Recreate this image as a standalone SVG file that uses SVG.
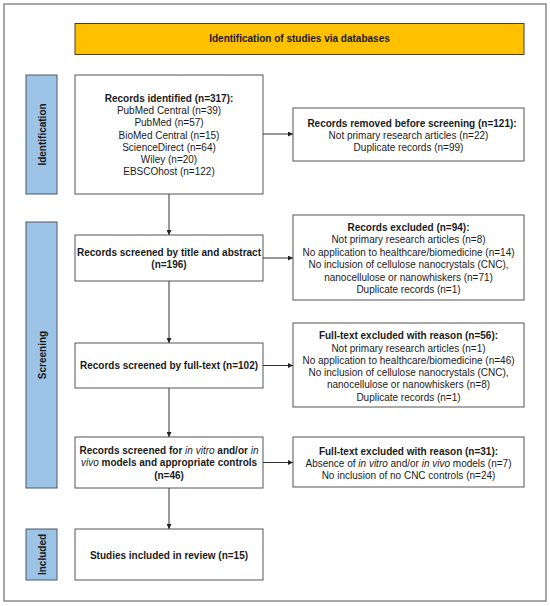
<svg xmlns="http://www.w3.org/2000/svg" width="550" height="606" viewBox="0 0 550 606">
<defs>
<marker id="ah" markerUnits="userSpaceOnUse" markerWidth="5" markerHeight="5" refX="5" refY="2.5" orient="auto">
<path d="M0,0 L5,2.5 L0,5 z" fill="#222"/>
</marker>
<style>
text{font-family:"Liberation Sans",Arial,sans-serif;font-size:10px;fill:#1a1a1a;text-anchor:middle}
.b{font-weight:bold}
.i{font-style:italic;font-weight:normal}
.box{fill:#fff;stroke:#555;stroke-width:1}
.stage{fill:#9dc3e6;stroke:#4a5868;stroke-width:1}
.conn line{stroke:#333;stroke-width:1;marker-end:url(#ah)}
</style>
</defs>
<rect x="0" y="0" width="550" height="606" fill="#fff"/>
<rect x="4" y="4" width="542" height="597" fill="#fff" stroke="#7a7a7a" stroke-width="1.3"/>

<g id="header">
<rect x="75" y="23.5" width="449" height="31" fill="#ffc000" stroke="#4d4020" stroke-width="1"/>
<text class="b" x="299.5" y="42">Identification of studies via databases</text>
</g>

<g id="stage-identification">
<rect class="stage" x="26" y="75" width="31" height="119"/>
<text class="b" transform="translate(45.5,134.5) rotate(-90)">Identification</text>
</g>
<g id="stage-screening">
<rect class="stage" x="26" y="222" width="31" height="266"/>
<text class="b" transform="translate(45.5,355) rotate(-90)">Screening</text>
</g>
<g id="stage-included">
<rect class="stage" x="26" y="529" width="31" height="51"/>
<text class="b" transform="translate(45.5,554.5) rotate(-90)">Included</text>
</g>

<g id="records-identified">
<rect class="box" x="75" y="75" width="188" height="119"/>
<text class="b" x="169" y="102">Records identified (n=317):</text>
<text x="169" y="114.2">PubMed Central (n=39)</text>
<text x="169" y="126.4">PubMed (n=57)</text>
<text x="169" y="138.6">BioMed Central (n=15)</text>
<text x="169" y="150.8">ScienceDirect (n=64)</text>
<text x="169" y="163">Wiley (n=20)</text>
<text x="169" y="175.2">EBSCOhost (n=122)</text>
</g>

<g id="records-removed">
<rect class="box" x="293" y="108" width="231" height="53"/>
<text class="b" x="412" y="126.8">Records removed before screening (n=121):</text>
<text x="408.5" y="138.6">Not primary research articles (n=22)</text>
<text x="408.5" y="150.8">Duplicate records (n=99)</text>
</g>

<g id="screened-title">
<rect class="box" x="75" y="235" width="188" height="46"/>
<text class="b" x="169" y="255.8">Records screened by title and abstract</text>
<text class="b" x="169" y="267.8">(n=196)</text>
</g>

<g id="records-excluded">
<rect class="box" x="293" y="215" width="231" height="85"/>
<text class="b" x="408.5" y="230.5">Records excluded (n=94):</text>
<text x="408.5" y="243.3">Not primary research articles (n=8)</text>
<text x="408.5" y="255.8">No application to healthcare/biomedicine (n=14)</text>
<text x="408.5" y="268.3">No inclusion of cellulose nanocrystals (CNC),</text>
<text x="408.5" y="280.8">nanocellulose or nanowhiskers (n=71)</text>
<text x="408.5" y="293.3">Duplicate records (n=1)</text>
</g>

<g id="screened-fulltext">
<rect class="box" x="75" y="343" width="188" height="45"/>
<text class="b" x="169" y="369.2">Records screened by full-text (n=102)</text>
</g>

<g id="fulltext-excluded-56">
<rect class="box" x="293" y="323" width="231" height="84"/>
<text class="b" x="408.5" y="339.2">Full-text excluded with reason (n=56):</text>
<text x="408.5" y="351.5">Not primary research articles (n=1)</text>
<text x="408.5" y="363.8">No application to healthcare/biomedicine (n=46)</text>
<text x="408.5" y="376.1">No inclusion of cellulose nanocrystals (CNC),</text>
<text x="408.5" y="388.4">nanocellulose or nanowhiskers (n=8)</text>
<text x="408.5" y="400.6">Duplicate records (n=1)</text>
</g>

<g id="screened-models">
<rect class="box" x="75" y="437" width="188" height="51"/>
<text class="b" x="169" y="454.2">Records screened for <tspan class="i">in vitro</tspan> and/or <tspan class="i">in</tspan></text>
<text class="b" x="169" y="466.2"><tspan class="i">vivo</tspan> models and appropriate controls</text>
<text class="b" x="169" y="478.5">(n=46)</text>
</g>

<g id="fulltext-excluded-31">
<rect class="box" x="293" y="437" width="231" height="50"/>
<text class="b" x="408.5" y="454.5">Full-text excluded with reason (n=31):</text>
<text x="408.5" y="466.8">Absence of <tspan class="i">in vitro</tspan> and/or <tspan class="i">in vivo</tspan> models (n=7)</text>
<text x="408.5" y="479.2">No inclusion of no CNC controls (n=24)</text>
</g>

<g id="studies-included">
<rect class="box" x="75" y="529" width="188" height="51"/>
<text class="b" x="169" y="558.5">Studies included in review (n=15)</text>
</g>

<g id="connectors" class="conn">
<line x1="169" y1="194" x2="169" y2="235"/>
<line x1="169" y1="281" x2="169" y2="343"/>
<line x1="169" y1="388" x2="169" y2="437"/>
<line x1="169" y1="488" x2="169" y2="529"/>
<line x1="263" y1="134" x2="293" y2="134"/>
<line x1="263" y1="258" x2="293" y2="258"/>
<line x1="263" y1="365.5" x2="293" y2="365.5"/>
<line x1="263" y1="462.5" x2="293" y2="462.5"/>
</g>
</svg>
